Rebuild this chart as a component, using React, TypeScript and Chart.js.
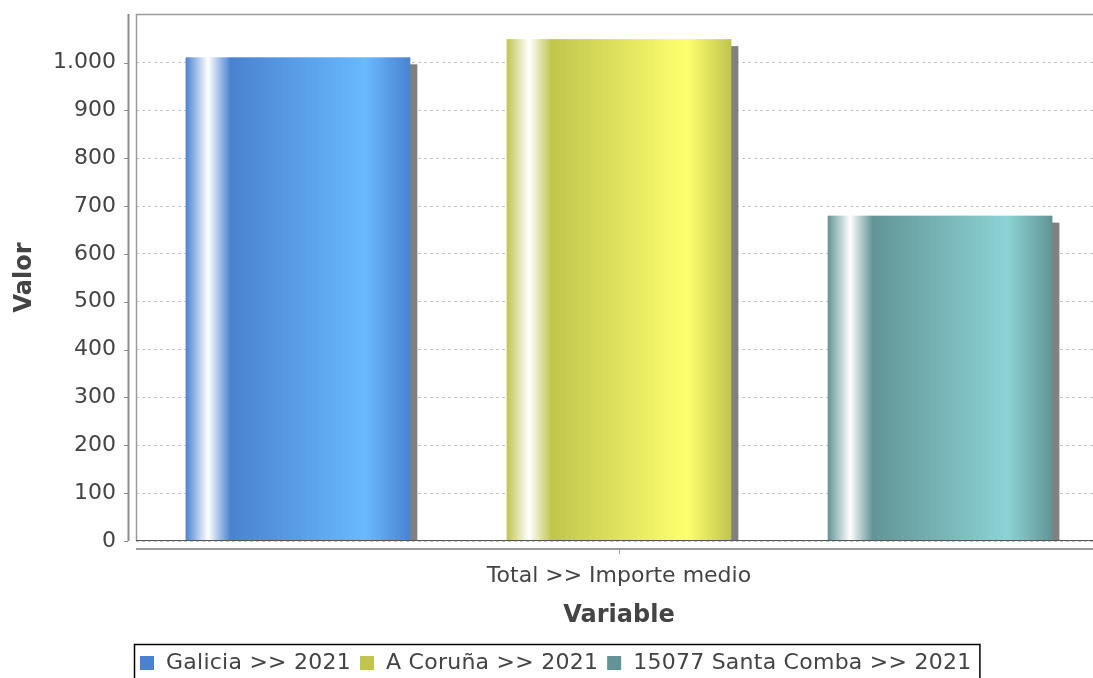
import React, { useEffect, useRef } from "react";
import { Chart, registerables } from "chart.js";

Chart.register(...registerables);

// ---- Data ----
const categories = ["Total >> Importe medio"];
const seriesNames = ["Galicia >> 2021", "A Coruña >> 2021", "15077 Santa Comba >> 2021"];
const galicia2021 = [1011];
const aCoruna2021 = [1049];
const santaComba2021 = [680];
const yTickValues = [0, 100, 200, 300, 400, 500, 600, 700, 800, 900, 1000];
const yAxisMax = 1101.5;
const xAxisTitle = "Variable";
const yAxisTitle = "Valor";

// ---- Styles ----
const baseColors: number[][] = [
  [74, 130, 208],
  [192, 197, 77],
  [98, 148, 150],
];
const FONT = "'DejaVu Sans', sans-serif";
const TEXT_COLOR = "#444444";
const SHADOW = 7;

function rgb(c: number[]) {
  return `rgb(${c[0]},${c[1]},${c[2]})`;
}
function brighter(c: number[]) {
  return c.map((v) => Math.min(255, Math.floor((v > 0 && v < 3 ? 3 : v) / 0.7)));
}
function fmt(v: number) {
  return String(Math.round(v)).replace(/\B(?=(\d{3})+(?!\d))/g, ".");
}

const jfreePlugin = {
  id: "jfree",
  beforeDraw(chart: any) {
    const { ctx, width, height } = chart;
    ctx.save();
    ctx.fillStyle = "#ffffff";
    ctx.fillRect(0, 0, width, height);
    ctx.restore();
  },
  beforeDatasetsDraw(chart: any) {
    const { ctx, chartArea } = chart;
    ctx.save();
    ctx.beginPath();
    ctx.rect(chartArea.left, chartArea.top, chartArea.right - chartArea.left, chartArea.bottom - chartArea.top);
    ctx.clip();
    ctx.fillStyle = "#808080";
    chart.data.datasets.forEach((_: any, i: number) => {
      const meta = chart.getDatasetMeta(i);
      meta.data.forEach((el: any) => {
        const { x, y, base, width } = el.getProps(["x", "y", "base", "width"], true);
        ctx.fillRect(x - width / 2 + SHADOW, y + SHADOW, width, base - y);
      });
    });
    ctx.restore();
  },
  beforeDatasetDraw(chart: any, args: any) {
    const { ctx } = chart;
    const i = args.index;
    const c0 = baseColors[i];
    const c1 = brighter(c0);
    args.meta.data.forEach((el: any) => {
      const { x, y, base, width } = el.getProps(["x", "y", "base", "width"], true);
      const left = x - width / 2;
      const g = ctx.createLinearGradient(left, 0, left + width, 0);
      g.addColorStop(0, rgb(c0));
      g.addColorStop(0.1, "#ffffff");
      g.addColorStop(0.2, rgb(c0));
      g.addColorStop(0.8, rgb(c1));
      g.addColorStop(1, rgb(c0));
      ctx.save();
      ctx.fillStyle = g;
      ctx.fillRect(left, y, width, base - y);
      ctx.restore();
    });
    return false;
  },
  afterDraw(chart: any) {
    const { ctx, chartArea } = chart;
    const { left, right, top, bottom } = chartArea;
    const yScale = chart.scales.y;
    const xScale = chart.scales.x;
    ctx.save();
    // plot outline
    ctx.strokeStyle = "#9a9a9a";
    ctx.lineWidth = 1.5;
    ctx.beginPath();
    ctx.moveTo(left + 0.5, bottom);
    ctx.lineTo(left + 0.5, top + 0.5);
    ctx.lineTo(right + 5, top + 0.5);
    ctx.stroke();
    // zero / baseline
    ctx.strokeStyle = "#555555";
    ctx.lineWidth = 1;
    ctx.beginPath();
    ctx.moveTo(left, bottom - 0.5);
    ctx.lineTo(right + 5, bottom - 0.5);
    ctx.stroke();
    // y axis line
    ctx.strokeStyle = "#8c8c8c";
    ctx.lineWidth = 2;
    ctx.beginPath();
    ctx.moveTo(128.5, top);
    ctx.lineTo(128.5, bottom);
    ctx.stroke();
    // y tick marks
    ctx.lineWidth = 1;
    yTickValues.forEach((v) => {
      const py = Math.round(yScale.getPixelForValue(v)) + 0.5;
      ctx.beginPath();
      ctx.moveTo(124, py);
      ctx.lineTo(128, py);
      ctx.stroke();
    });
    // x axis line
    ctx.lineWidth = 2;
    ctx.strokeStyle = "#9a9a9a";
    ctx.beginPath();
    ctx.moveTo(left, bottom + 8);
    ctx.lineTo(right + 5, bottom + 8);
    ctx.stroke();
    // x tick mark
    ctx.lineWidth = 1;
    categories.forEach((_, k) => {
      const px = Math.round(xScale.getPixelForTick(k)) + 0.5;
      ctx.beginPath();
      ctx.moveTo(px, bottom + 9);
      ctx.lineTo(px, bottom + 13);
      ctx.stroke();
    });
    // axis titles
    ctx.fillStyle = TEXT_COLOR;
    ctx.font = `bold 24px ${FONT}`;
    ctx.textAlign = "center";
    ctx.textBaseline = "middle";
    ctx.fillText(xAxisTitle, (left + right) / 2, 616);
    ctx.save();
    ctx.translate(25, (top + bottom) / 2);
    ctx.rotate(-Math.PI / 2);
    ctx.fillText(yAxisTitle, 0, 0);
    ctx.restore();
    // legend
    ctx.font = `22px ${FONT}`;
    (ctx as any).letterSpacing = "0.25px";
    ctx.textAlign = "left";
    const marker = 14;
    const widths = seriesNames.map((s) => ctx.measureText(s).width);
    let total = 6;
    widths.forEach((w, k) => {
      total += marker + 12 + w + (k < widths.length - 1 ? 9 : 8);
    });
    const bx = Math.round(556.5 - total / 2);
    const by = 644;
    ctx.strokeStyle = "#000000";
    ctx.lineWidth = 1.5;
    ctx.strokeRect(bx + 0.5, by + 0.5, total, 40);
    let cx = bx + 6;
    const cy = 663;
    seriesNames.forEach((s, k) => {
      ctx.fillStyle = rgb(baseColors[k]);
      ctx.fillRect(cx, cy - marker / 2, marker, marker);
      cx += marker + 12;
      ctx.fillStyle = TEXT_COLOR;
      ctx.fillText(s, cx, cy);
      cx += widths[k] + 9;
    });
    ctx.restore();
  },
};

export default function App() {
  const ref = useRef<HTMLCanvasElement>(null);
  useEffect(() => {
    document.body.style.margin = "0";
    document.body.style.overflow = "hidden";
    const canvas = ref.current;
    if (!canvas) return;
    const seriesData = [galicia2021, aCoruna2021, santaComba2021];
    const chart = new Chart(canvas, {
      type: "bar",
      data: {
        labels: categories,
        datasets: seriesNames.map((name, i) => ({
          label: name,
          data: seriesData[i],
          backgroundColor: rgb(baseColors[i]),
          barPercentage: 0.7,
          categoryPercentage: 0.997,
        })),
      },
      options: {
        animation: false,
        responsive: false,
        devicePixelRatio: 1,
        layout: { padding: { left: 0, top: 14, right: 8, bottom: 0 } },
        plugins: {
          legend: { display: false },
          tooltip: { enabled: false },
          title: { display: false },
        },
        scales: {
          x: {
            offset: true,
            grid: { display: false, drawTicks: false },
            border: { display: false },
            ticks: {
              padding: 22,
              color: TEXT_COLOR,
              font: { family: FONT, size: 22 },
            },
            afterFit(scale: any) {
              scale.height = 137;
              scale.paddingLeft = 0;
              scale.paddingRight = 0;
              scale.paddingTop = 0;
              scale.paddingBottom = 0;
            },
          },
          y: {
            min: 0,
            max: yAxisMax,
            afterBuildTicks(scale: any) {
              scale.ticks = yTickValues.map((v) => ({ value: v }));
            },
            grid: { color: "#c4c4c4", drawTicks: false, lineWidth: 1 },
            border: { display: false, dash: [3, 3] },
            ticks: {
              padding: 20,
              color: TEXT_COLOR,
              font: { family: FONT, size: 22 },
              callback: (v: any) => fmt(Number(v)),
            },
            afterFit(scale: any) {
              scale.width = 136;
              scale.paddingTop = 0;
              scale.paddingBottom = 0;
              scale.paddingLeft = 0;
              scale.paddingRight = 0;
            },
          },
        },
      },
      plugins: [jfreePlugin],
    } as any);
    return () => chart.destroy();
  }, []);
  return (
    <div style={{ position: "relative", width: 1093, height: 678, overflow: "hidden", background: "#fff" }}>
      <canvas ref={ref} width={1110} height={678} style={{ display: "block", width: 1110, height: 678 }} />
    </div>
  );
}
